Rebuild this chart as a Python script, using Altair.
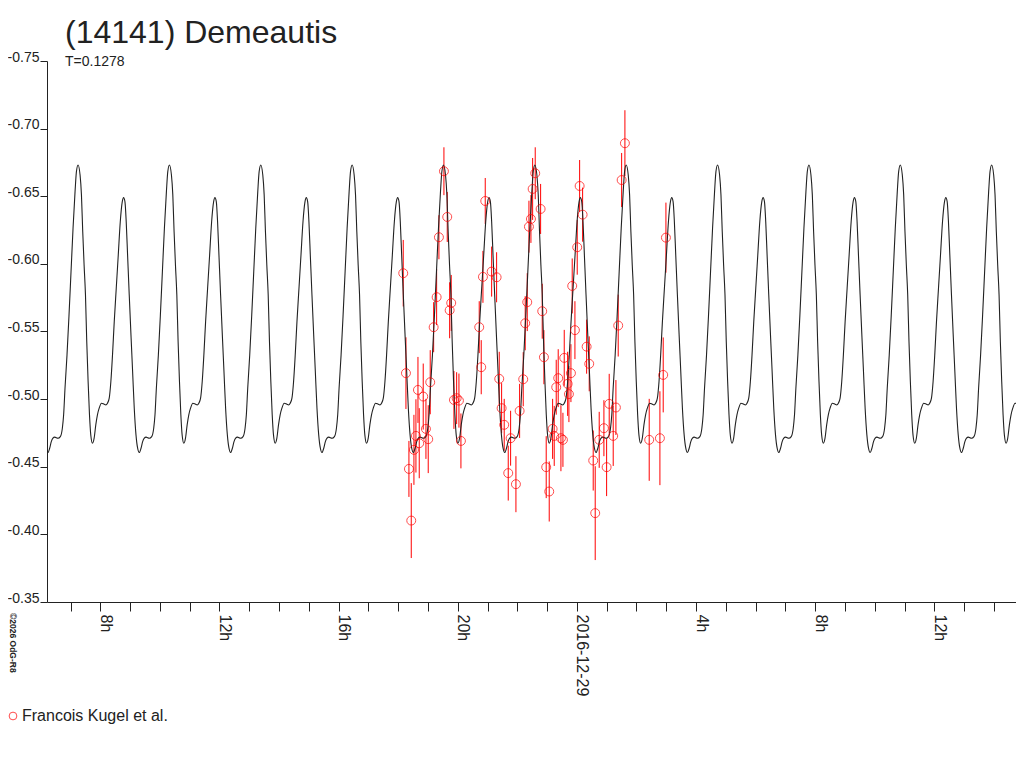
import altair as alt
import pandas as pd

TITLE = "(14141) Demeautis"
SUBTITLE = "T=0.1278"
OBSERVER = "Francois Kugel et al."
CREDIT = "\u00a92026 OdG-R8"
PERIOD_DAYS = 0.1278
EPOCH_H = 22.59          # hours after 2016-12-28 00:00, a main maximum of the model
X_DOMAIN = [6.211, 38.743]
Y_DOMAIN = [-0.75, -0.35]
Y_TICKS = [-0.75, -0.70, -0.65, -0.60, -0.55, -0.50, -0.45, -0.40, -0.35]
X_TICKS = list(range(7, 39))

# model light curve over one rotation (phase 0 = main maximum)
model_phase = [0.000, 0.022, 0.037, 0.051, 0.066, 0.081, 0.095, 0.110, 0.125, 0.139,
               0.158, 0.176, 0.194, 0.212, 0.231, 0.256, 0.286, 0.304, 0.322, 0.341,
               0.359, 0.377, 0.396, 0.418, 0.440, 0.462, 0.484, 0.498, 0.513, 0.527,
               0.542, 0.560, 0.579, 0.597, 0.615, 0.634, 0.652, 0.670, 0.689, 0.707,
               0.725, 0.744, 0.780, 0.806, 0.828, 0.842, 0.857, 0.879, 0.901, 0.923,
               0.945, 0.967, 0.982, 1.000]
model_mag = [-0.6731, -0.6657, -0.6510, -0.6239, -0.5992, -0.5771, -0.5426, -0.5130, -0.4884, -0.4736,
             -0.4674, -0.4711, -0.4810, -0.4884, -0.4933, -0.4970, -0.4962, -0.4957, -0.4970, -0.5007,
             -0.5130, -0.5327, -0.5573, -0.5820, -0.6066, -0.6312, -0.6460, -0.6490, -0.6460, -0.6312,
             -0.6066, -0.5771, -0.5475, -0.5204, -0.4933, -0.4736, -0.4637, -0.4605, -0.4637, -0.4686,
             -0.4711, -0.4719, -0.4711, -0.4723, -0.4785, -0.4884, -0.5081, -0.5327, -0.5623, -0.5943,
             -0.6263, -0.6534, -0.6682, -0.6731]

# observations (hours after 2016-12-28 00:00)
obs_time_h = [18.171, 18.262, 18.362, 18.440, 18.530, 18.597, 18.665, 18.708, 18.842, 18.933,
              19.010, 19.077, 19.192, 19.292, 19.369, 19.537, 19.648, 19.729, 19.782, 19.873,
              19.964, 20.041, 20.108, 20.722, 20.789, 20.847, 20.924, 21.139, 21.306, 21.394,
              21.474, 21.561, 21.696, 21.776, 21.954, 22.078, 22.199, 22.266, 22.334, 22.391,
              22.458, 22.515, 22.602, 22.783, 22.837, 22.894, 22.971, 23.072, 23.186, 23.240,
              23.307, 23.374, 23.465, 23.532, 23.576, 23.690, 23.733, 23.801, 23.844, 23.935,
              24.012, 24.093, 24.193, 24.328, 24.415, 24.549, 24.616, 24.750, 24.908, 24.999,
              25.086, 25.220, 25.311, 25.388, 25.503, 25.613, 26.429, 26.788, 26.899, 26.990]
obs_mag = [-0.5931, -0.5192, -0.4484, -0.4102, -0.4625, -0.4728, -0.5068, -0.4674, -0.5019, -0.4780,
           -0.4704, -0.5125, -0.5532, -0.5754, -0.6197, -0.6685, -0.6347, -0.5657, -0.5711, -0.4994,
           -0.5007, -0.4989, -0.4691, -0.5532, -0.5236, -0.5904, -0.6465, -0.5943, -0.5901, -0.5150,
           -0.4933, -0.4810, -0.4453, -0.4711, -0.4371, -0.4913, -0.5147, -0.5561, -0.5717, -0.6275,
           -0.6332, -0.6554, -0.6670, -0.6406, -0.5650, -0.5310, -0.4497, -0.4317, -0.4780, -0.4728,
           -0.5088, -0.5155, -0.4711, -0.4699, -0.5305, -0.5113, -0.5037, -0.5192, -0.5837, -0.5510,
           -0.6123, -0.6576, -0.6364, -0.5388, -0.5261, -0.4546, -0.4157, -0.4699, -0.4785, -0.4497,
           -0.4965, -0.4728, -0.4938, -0.5544, -0.6620, -0.6892, -0.4699, -0.4711, -0.5179, -0.6194]
obs_err = [0.0246, 0.0265, 0.0207, 0.0277, 0.0259, 0.0271, 0.0244, 0.0259, 0.0244, 0.0222,
           0.0251, 0.0237, 0.0185, 0.0207, 0.0163, 0.0177, 0.0185, 0.0207, 0.0207, 0.0214,
           0.0192, 0.0200, 0.0203, 0.0192, 0.0200, 0.0192, 0.0170, 0.0185, 0.0185, 0.0200,
           0.0185, 0.0192, 0.0203, 0.0203, 0.0207, 0.0200, 0.0200, 0.0200, 0.0214, 0.0192,
           0.0177, 0.0229, 0.0192, 0.0185, 0.0203, 0.0200, 0.0229, 0.0222, 0.0222, 0.0222,
           0.0203, 0.0214, 0.0244, 0.0200, 0.0207, 0.0237, 0.0207, 0.0214, 0.0203, 0.0214,
           0.0203, 0.0192, 0.0200, 0.0200, 0.0203, 0.0222, 0.0347, 0.0207, 0.0207, 0.0214,
           0.0222, 0.0222, 0.0203, 0.0229, 0.0200, 0.0244, 0.0303, 0.0347, 0.0277, 0.0259]

FONT = "Liberation Sans"
INK = "#222222"
RED = "#ff0000"

# repeat the one-rotation model over the time window
P_H = PERIOD_DAYS * 24.0
rows = []
for k in range(-7, 7):
    for ph, m in zip(model_phase[:-1], model_mag[:-1]):
        t = EPOCH_H + (k + ph) * P_H
        if X_DOMAIN[0] - 0.5 <= t <= X_DOMAIN[1] + 0.5:
            rows.append({"t": t, "mag": m})
model_df = pd.DataFrame(rows).sort_values("t")

obs_df = pd.DataFrame({"t": obs_time_h, "mag": obs_mag, "err": obs_err})
obs_df["lo"] = obs_df["mag"] - obs_df["err"]
obs_df["hi"] = obs_df["mag"] + obs_df["err"]
obs_df["observer"] = OBSERVER

x_label_expr = ("datum.value % 4 == 0 ? (datum.value == 24 ? '2016-12-29' : "
                "(datum.value % 24) + 'h') : ''")

y_scale = alt.Scale(domain=Y_DOMAIN, reverse=True, nice=False, zero=False)
x_scale = alt.Scale(domain=X_DOMAIN, nice=False, zero=False)

x_axis = alt.Axis(values=X_TICKS, labelExpr=x_label_expr, labelAngle=90,
                  labelAlign="left", labelBaseline="alphabetic",
                  labelPadding=3, tickSize=9, grid=False, title=None,
                  labelFlush=False, labelOverlap=False,
                  labelFont=FONT, labelFontSize=16, labelColor=INK,
                  domainColor=INK, tickColor=INK)
y_axis = alt.Axis(values=Y_TICKS,
                  labelExpr="'-' + format(abs(datum.value), '.2f')",
                  labelBaseline="alphabetic", labelPadding=1, tickSize=7,
                  grid=False, title=None, labelFlush=False, labelOverlap=False,
                  labelFont=FONT, labelFontSize=14, labelColor=INK,
                  domainColor=INK, tickColor=INK)

x_enc = alt.X("t:Q", scale=x_scale, axis=x_axis)
y_enc = alt.Y("mag:Q", scale=y_scale, axis=y_axis)

bars = alt.Chart(obs_df).mark_rule(color=RED, strokeWidth=1, clip=True).encode(
    x=x_enc, y=alt.Y("lo:Q", scale=y_scale, axis=y_axis), y2="hi:Q")

line = alt.Chart(model_df).mark_line(color=INK, strokeWidth=1.1, interpolate="monotone",
                                     clip=True).encode(x=x_enc, y=y_enc)

points = alt.Chart(obs_df).mark_point(shape="circle", filled=False, size=80,
                                      strokeWidth=1, clip=True).encode(
    x=x_enc, y=y_enc,
    color=alt.Color("observer:N",
                    scale=alt.Scale(domain=[OBSERVER], range=[RED]),
                    legend=alt.Legend(title=None, orient="none", legendX=-42, legendY=647,
                                      labelFont=FONT, labelFontSize=16, labelColor=INK,
                                      symbolSize=60, symbolStrokeWidth=1,
                                      symbolType="circle", padding=0, labelOffset=1)))

credit = alt.Chart(pd.DataFrame({"txt": [CREDIT]})).mark_text(
    angle=90, align="left", baseline="alphabetic", font=FONT, fontSize=8.5,
    fontWeight="bold", color=INK).encode(
    x=alt.value(-37), y=alt.value(552), text="txt:N")

chart = alt.layer(bars, line, points, credit).properties(
    width=969, height=541,
    background="white",
    autosize=alt.AutoSizeParams(type="none"),
    padding={"left": 39, "top": 53, "right": 0, "bottom": 150},
    title=alt.TitleParams(text=TITLE, subtitle=SUBTITLE, anchor="start", frame="group",
                          dx=18, font=FONT, fontSize=32, fontWeight="normal", color=INK,
                          subtitleFont=FONT, subtitleFontSize=14, subtitleColor=INK,
                          subtitlePadding=5, offset=-20),
).configure_axis(grid=False).configure_view(strokeWidth=0)

chart.save("out.html", embed_options={"renderer": "svg", "actions": False})
